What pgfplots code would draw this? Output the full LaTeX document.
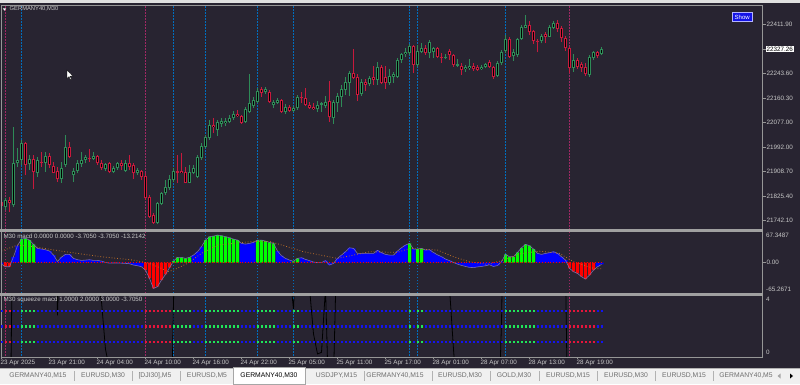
\documentclass[border=0pt]{standalone}
\usepackage{fontspec}
\setmainfont{Liberation Sans}
\usepackage{pgfplots}
\pgfplotsset{compat=1.18}
\usepackage{pgfplotstable}

\definecolor{bg}{RGB}{40,36,49}
\definecolor{frame}{RGB}{150,150,150}
\definecolor{sep}{RGB}{160,160,160}
\definecolor{txt}{RGB}{200,200,200}
\definecolor{bull}{RGB}{46,139,87}
\definecolor{bear}{RGB}{200,25,60}
\definecolor{hblue}{RGB}{0,0,255}
\definecolor{hgreen}{RGB}{0,255,0}
\definecolor{hred}{RGB}{255,0,0}
\definecolor{mline}{RGB}{120,110,170}
\definecolor{sig}{RGB}{190,110,40}
\definecolor{sgpink}{RGB}{160,40,100}
\definecolor{sgblue}{RGB}{0,110,190}
\definecolor{sqb}{RGB}{20,20,240}
\definecolor{sqg}{RGB}{30,230,90}
\definecolor{sqr}{RGB}{230,20,60}
\definecolor{tabbg}{RGB}{240,240,240}
\definecolor{tabtxt}{RGB}{110,110,110}

% i = bar index, o h l c = open high low close, m = macd, k = colour class (0 blue, 1 green, 2 red)
\pgfplotstableread{
i o h l c m k
0 21805 21812 21761 21792 -3.0 0
1 21787 21818 21778 21812 -8.6 2
2 21812 21823 21772 21803 -8.6 2
3 21795 22060 21789 21937 12.9 0
4 21937 21989 21926 21949 36.7 0
5 21949 22017 21932 22006 51.0 1
6 22006 22011 21897 21932 52.5 1
7 21935 21966 21915 21951 48.9 1
8 21951 21966 21849 21909 39.5 1
9 21905 21960 21892 21949 30.9 0
10 21943 21977 21926 21939 29.5 0
11 21939 21977 21909 21962 28.0 0
12 21962 21972 21920 21932 25.2 0
13 21928 21943 21903 21905 16.5 0
14 21911 21926 21875 21883 2.7 0
15 21883 21943 21871 21920 12.2 0
16 21932 22034 21926 21992 18.0 0
17 21992 22011 21954 21960 18.0 0
18 21897 21920 21875 21911 9.3 0
19 21911 21949 21903 21937 6.5 0
20 21935 21977 21926 21949 5.0 0
21 21949 21966 21937 21958 5.7 0
22 21957 21985 21943 21953 6.5 0
23 21953 21977 21949 21962 5.0 0
24 21962 21966 21932 21937 5.0 0
25 21939 21949 21915 21920 3.6 0
26 21917 21939 21911 21934 0.5 0
27 21937 21943 21903 21909 -0.8 0
28 21909 21928 21903 21922 -0.5 0
29 21920 21943 21915 21937 -0.6 0
30 21937 21949 21915 21928 -1.0 0
31 21912 21949 21909 21937 -1.4 0
32 21937 21966 21915 21926 -2.2 0
33 21932 21937 21884 21903 -5.0 0
34 21903 21920 21897 21915 -6.5 0
35 21911 21915 21880 21890 -8.6 0
36 21894 21903 21812 21818 -15.8 2
37 21823 21829 21750 21755 -33.8 2
38 21761 21767 21730 21733 -55.3 2
39 21735 21806 21730 21803 -51.7 2
40 21798 21840 21795 21835 -37.4 2
41 21835 21880 21829 21856 -25.2 2
42 21852 21897 21846 21883 -10.8 2
43 21880 21920 21875 21911 3.6 1
44 21911 21966 21869 21905 11.5 1
45 21912 21972 21903 21905 11.5 1
46 21909 21926 21869 21871 9.3 1
47 21871 21932 21869 21909 11.5 1
48 21905 21932 21901 21922 16.5 0
49 21890 21966 21886 21960 23.7 0
50 21954 22006 21949 21997 34.5 0
51 21994 22034 21989 22026 48.9 1
52 22023 22085 22017 22068 56.1 1
53 22068 22091 22040 22060 57.5 1
54 22051 22085 22031 22079 59.7 1
55 22072 22091 22062 22083 58.2 1
56 22076 22091 22065 22083 56.1 1
57 22079 22102 22074 22091 53.9 1
58 22091 22117 22085 22106 51.0 1
59 22106 22119 22096 22099 48.9 1
60 22099 22102 22072 22076 41.7 0
61 22080 22130 22075 22123 40.2 0
62 22114 22242 22108 22142 41.7 0
63 22133 22165 22125 22154 43.8 0
64 22148 22193 22142 22185 48.9 1
65 22190 22197 22165 22178 48.9 1
66 22182 22197 22174 22190 46.7 1
67 22182 22188 22144 22148 43.8 1
68 22136 22154 22125 22148 41.7 1
69 22144 22159 22140 22154 25.2 0
70 22154 22156 22110 22114 15.1 0
71 22114 22140 22106 22129 9.3 0
72 22131 22136 22113 22117 5.7 0
73 22117 22133 22113 22127 3.1 1
74 22125 22171 22119 22165 9.3 1
75 22163 22182 22144 22159 10.8 0
76 22159 22193 22133 22136 7.2 0
77 22136 22148 22122 22125 4.5 0
78 22131 22142 22119 22122 1.5 0
79 22122 22151 22114 22135 0.2 0
80 22136 22148 22114 22142 0.3 0
81 22133 22167 22127 22148 4.5 0
82 22150 22218 22079 22094 -5.0 0
83 22091 22154 22072 22148 -1.4 0
84 22142 22178 22114 22167 9.3 0
85 22165 22205 22131 22190 16.5 0
86 22188 22233 22171 22216 23.7 0
87 22213 22254 22167 22247 32.3 0
88 22247 22327 22224 22228 30.9 0
89 22233 22242 22151 22171 20.1 0
90 22174 22224 22167 22216 20.1 0
91 22216 22224 22185 22205 20.1 0
92 22208 22235 22201 22230 20.1 0
93 22233 22270 22205 22222 20.1 0
94 22222 22282 22205 22267 26.6 0
95 22267 22273 22207 22211 21.6 0
96 22233 22270 22191 22213 18.0 0
97 22211 22258 22205 22235 16.5 0
98 22233 22250 22213 22241 16.5 0
99 22233 22296 22228 22290 25.2 0
100 22290 22315 22279 22311 32.3 0
101 22311 22330 22301 22318 38.1 0
102 22313 22345 22307 22338 41.7 1
103 22339 22341 22245 22273 29.5 0
104 22273 22341 22267 22322 29.5 1
105 22318 22347 22313 22330 30.9 1
106 22330 22341 22307 22313 27.3 0
107 22313 22358 22296 22353 28.0 0
108 22318 22336 22296 22330 22.0 0
109 22330 22333 22296 22301 17.0 0
110 22301 22313 22279 22296 13.0 0
111 22296 22311 22292 22301 8.0 0
112 22322 22327 22290 22307 4.5 0
113 22307 22311 22267 22273 0.5 0
114 22270 22292 22267 22275 -3.0 0
115 22270 22279 22239 22256 -5.7 0
116 22258 22273 22250 22265 -8.0 0
117 22262 22292 22256 22270 -10.0 0
118 22270 22279 22254 22258 -10.5 0
119 22267 22273 22253 22256 -9.0 0
120 22258 22273 22256 22267 -8.0 0
121 22267 22281 22262 22275 -6.5 0
122 22284 22290 22262 22265 -4.5 0
123 22267 22270 22224 22233 -8.0 0
124 22235 22288 22233 22279 -6.0 0
125 22279 22324 22273 22318 2.2 0
126 22322 22375 22313 22361 18.0 1
127 22361 22370 22296 22301 12.9 1
128 22304 22327 22288 22318 12.9 1
129 22307 22364 22301 22361 22.3 1
130 22362 22410 22359 22402 32.3 1
131 22400 22444 22398 22410 39.5 1
132 22410 22423 22375 22387 36.7 1
133 22389 22393 22345 22356 29.5 1
134 22356 22362 22316 22352 20.1 0
135 22355 22378 22347 22372 18.0 0
136 22378 22385 22347 22370 20.1 0
137 22370 22410 22368 22404 21.6 0
138 22400 22423 22396 22415 23.7 0
139 22415 22427 22385 22396 20.1 0
140 22400 22406 22353 22364 12.9 0
141 22366 22373 22321 22330 5.7 0
142 22330 22336 22245 22262 -12.2 2
143 22262 22310 22250 22290 -19.4 2
144 22290 22298 22259 22267 -23.0 2
145 22275 22284 22250 22264 -30.2 2
146 22267 22279 22237 22241 -35.2 2
147 22239 22307 22233 22301 -26.6 2
148 22296 22322 22290 22316 -15.8 2
149 22316 22321 22298 22305 -8.6 0
150 22310 22336 22307 22327.26 -3.7 0
}\data

\pgfplotstableread{
i s
0 25.2
4 38.1
8 34.5
16 23.7
25 12.9
33 5.7
37 -1.4
40 -12.2
41.5 -19.4
43 -15.8
46.5 -1.4
50 20.1
54 38.1
58 41.7
62 45.3
67 46.0
71.5 34.5
75.5 23.7
84 9.3
88 16.5
92 23.7
99 22.3
102 30.9
109 27.3
113 12.9
117 2.2
121.5 -3.6
125.5 5.7
130 20.1
134.5 25.0
139.5 20.1
143 2.2
148 -12.2
150 -13.2
}\signal

% vertical signal lines: one segment per bar, with its ends in each pane (p price, m macd, s squeeze)
\pgfplotstableread{
i p m s
1 21700 -66 -0.1
1 22480 68 4.1
1 nan nan nan
36 21700 -66 -0.1
36 22480 68 4.1
36 nan nan nan
142 21700 -66 -0.1
142 22480 68 4.1
}\pinklines
\pgfplotstableread{
i p m s
5 21700 -66 -0.1
5 22480 68 4.1
5 nan nan nan
43 21700 -66 -0.1
43 22480 68 4.1
43 nan nan nan
51 21700 -66 -0.1
51 22480 68 4.1
51 nan nan nan
64 21700 -66 -0.1
64 22480 68 4.1
64 nan nan nan
73 21700 -66 -0.1
73 22480 68 4.1
73 nan nan nan
102 21700 -66 -0.1
102 22480 68 4.1
102 nan nan nan
104 21700 -66 -0.1
104 22480 68 4.1
104 nan nan nan
126 21700 -66 -0.1
126 22480 68 4.1
}\bluelines

\pgfplotsset{
  pane/.style={
    scale only axis, width=761pt, xmin=-0.125, xmax=190.125,
    axis on top, clip=true, unbounded coords=jump,
    axis line style={draw=frame, line width=0.8pt},
    tick style={draw=frame, line width=0.6pt},
    tick align=outside, major tick length=3.5pt,
    xtick=\empty, ytick pos=right, yticklabel pos=right,
    tick label style={font=\fontsize{6.3}{7.5}\selectfont, text=txt},
    yticklabel style={anchor=west, inner sep=0.8pt},
  },
  bullsel/.style={restrict expr to domain={\thisrow{c}-\thisrow{o}}{0:100000}},
  bearsel/.style={restrict expr to domain={\thisrow{o}-\thisrow{c}}{0:100000}},
  cls0/.style={restrict expr to domain={\thisrow{k}}{-0.5:0.5}},
  cls1/.style={restrict expr to domain={\thisrow{k}}{0.5:1.5}},
  cls2/.style={restrict expr to domain={\thisrow{k}}{1.5:2.5}},
  ebase/.style={draw=none, mark=none, error bars/y dir=plus, error bars/y explicit, error bars/error mark=none},
  dotb/.style={only marks, mark=square*, mark size=0.75pt, color=sqb},
  dotg/.style={only marks, mark=square*, mark size=0.75pt, color=sqg},
  dotr/.style={only marks, mark=square*, mark size=0.75pt, color=sqr},
  vpk/.style={color=sgpink, solid, line width=1.2pt, dash pattern=on 1.5pt off 1.5pt, mark=none},
  vbl/.style={color=sgblue, solid, line width=1.2pt, dash pattern=on 1.5pt off 1.5pt, mark=none},
}

\begin{document}
\begin{tikzpicture}
\path[use as bounding box] (0pt,0pt) rectangle (800pt,384pt);
\fill[bg] (0pt,0pt) rectangle (800pt,384pt);
\fill[white!88!black] (0pt,380.6pt) rectangle (800pt,384pt);

% ---------------- price pane ----------------
\begin{axis}[pane, at={(1pt,155pt)}, anchor=south west, height=224pt,
  ymin=21713.1, ymax=22477.8,
  ytick={21742.1,21825.4,21908.7,21992,22077,22160.3,22243.6,22411.9},
  yticklabels={21742.10,21825.40,21908.70,21992.00,22077.00,22160.30,22243.60,22411.90},
  extra y ticks={22327.26}, extra y tick labels={22327.26},
  extra y tick style={yticklabel style={fill=white, text=black, inner sep=0.8pt}}]
\addplot[vpk] table[x=i, y=p] {\pinklines};
\addplot[vbl] table[x=i, y=p] {\bluelines};
% wicks
\addplot[bullsel, ebase, error bars/error bar style={solid, draw=bull, line width=1pt}] table[x=i, y=l, y error plus expr=\thisrow{h}-\thisrow{l}] {\data};
\addplot[bearsel, ebase, error bars/error bar style={solid, draw=bear, line width=1pt}] table[x=i, y=l, y error plus expr=\thisrow{h}-\thisrow{l}] {\data};
% bodies: coloured outline ...
\addplot[bullsel, ebase, error bars/error bar style={solid, line cap=butt, draw=bull, line width=3pt}] table[x=i, y=o, y error plus expr=\thisrow{c}-\thisrow{o}] {\data};
\addplot[bearsel, ebase, error bars/error bar style={solid, line cap=butt, draw=bear, line width=3pt}] table[x=i, y=c, y error plus expr=\thisrow{o}-\thisrow{c}] {\data};
% ... and black inside
\addplot[bullsel, ebase, error bars/error bar style={solid, line cap=butt, draw=black, line width=1pt}] table[x=i, y expr=\thisrow{o}+3.4, y error plus expr={max(\thisrow{c}-\thisrow{o}-6.8,0)}] {\data};
\addplot[bearsel, ebase, error bars/error bar style={solid, line cap=butt, draw=black, line width=1pt}] table[x=i, y expr=\thisrow{c}+3.4, y error plus expr={max(\thisrow{o}-\thisrow{c}-6.8,0)}] {\data};
\end{axis}

% ---------------- macd pane ----------------
\begin{axis}[pane, at={(1pt,91pt)}, anchor=south west, height=61.5pt,
  ymin=-65.2671, ymax=67.3487, ytick={0}, yticklabels={0.00}]
\addplot[vpk] table[x=i, y=m] {\pinklines};
\addplot[vbl] table[x=i, y=m] {\bluelines};
\addplot[ybar, bar width=4pt, bar shift=0pt, fill=hblue, draw=none, cls0] table[x=i, y=m] {\data};
\addplot[ybar, bar width=3pt, bar shift=0pt, fill=hgreen, draw=none, cls1] table[x=i, y=m] {\data};
\addplot[ybar, bar width=3pt, bar shift=0pt, fill=hred, draw=none, cls2] table[x=i, y=m] {\data};
\addplot[draw=mline, line width=0.6pt, mark=none] table[x=i, y=m] {\data};
\addplot[draw=sig, line width=0.8pt, dotted, mark=none] table[x=i, y=s] {\signal};
\addplot[draw=hred, line width=0.8pt, dotted, mark=none] coordinates {(0,0) (150,0)};
\end{axis}

% ---------------- squeeze pane ----------------
\begin{axis}[pane, at={(1pt,27pt)}, anchor=south west, height=61.5pt,
  ymin=0, ymax=4, ytick=\empty, major tick length=2pt,
  xtick={0,12,...,144}, xtick pos=left,
  xticklabels={23 Apr 2025,23 Apr 21:00,24 Apr 04:00,24 Apr 10:00,24 Apr 16:00,24 Apr 22:00,25 Apr 05:00,25 Apr 11:00,25 Apr 17:00,28 Apr 01:00,28 Apr 07:00,28 Apr 13:00,28 Apr 19:00},
  xticklabel style={anchor=north west, inner sep=0pt, xshift=-1pt, yshift=-1pt}]
\addplot[vpk] table[x=i, y=s] {\pinklines};
\addplot[vbl] table[x=i, y=s] {\bluelines};
\addplot[draw=black, line width=0.8pt, mark=none] table[x=i, y=m] {\data};
\addplot[dotb, cls0] table[x=i, y expr=3] {\data};
\addplot[dotg, cls1] table[x=i, y expr=3] {\data};
\addplot[dotr, cls2] table[x=i, y expr=3] {\data};
\addplot[dotb, cls0] table[x=i, y expr=2] {\data};
\addplot[dotg, cls1] table[x=i, y expr=2] {\data};
\addplot[dotr, cls2] table[x=i, y expr=2] {\data};
\addplot[dotb, cls0] table[x=i, y expr=1] {\data};
\addplot[dotg, cls1] table[x=i, y expr=1] {\data};
\addplot[dotr, cls2] table[x=i, y expr=1] {\data};
\end{axis}

\begin{scope}[x=1pt, y=1pt]
% pane separators
\fill[sep] (0,152.4) rectangle (762.5,155.2);
\fill[sep] (0,88.4) rectangle (762.5,91.2);

% labels in panes
\fill[white] (2.8,375.7) -- (6.2,375.7) -- (4.5,373.3) -- cycle;
\node[anchor=west, inner sep=0pt, text=txt, font=\fontsize{5.8}{7}\selectfont] at (9.5,374.7) {GERMANY40,M30};
\node[anchor=west, inner sep=0pt, text=txt, font=\fontsize{6.2}{7}\selectfont] at (3.3,148) {M30 macd 0.0000 0.0000 -3.7050 -3.7050 -13.2142};
\node[anchor=west, inner sep=0pt, text=txt, font=\fontsize{6.2}{7}\selectfont] at (3.3,84) {M30 squeeze macd 1.0000 2.0000 3.0000 -3.7050};
\begin{scope}[every node/.style={anchor=west, inner sep=0pt, text=txt, font=\fontsize{6.3}{7.5}\selectfont}]
\node at (766,148.3) {67.3487};
\node at (766,94.7) {-65.2671};
\node at (766,85) {4};
\node at (766,31.3) {0};
\end{scope}

% show button
\filldraw[fill={rgb,255:red,20;green,20;blue,230}, draw={rgb,255:red,180;green,180;blue,255}, line width=0.6pt] (732.5,362.3) rectangle (752,371.3);
\node[text=white, inner sep=0pt, font=\fontsize{6}{7}\selectfont] at (742.2,366.8) {Show};

% mouse cursor
\filldraw[fill=white, draw=black, line width=0.3pt] (67,314) -- (67,305.3) -- (69,307.3) -- (70.4,304.4) -- (71.5,304.9) -- (70.1,307.8) -- (72.8,307.8) -- cycle;

% tab bar
\fill[tabbg] (0,0) rectangle (800,16);
\draw[gray!60, line width=0.6pt] (0,16.2) -- (800,16.2);
\foreach \xx in {74,132,180,364,432,490,539,597,655,713} {\draw[gray!60, line width=0.6pt] (\xx,3) -- (\xx,13);}
\filldraw[fill=white, draw=gray!70, line width=0.6pt] (233,0) rectangle (305,16.8);
\begin{scope}[every node/.style={inner sep=0pt, text=tabtxt, font=\fontsize{6.8}{8}\selectfont}]
\node at (38,8) {GERMANY40,M15};
\node at (103,8) {EURUSD,M30};
\node at (155,8) {[DJI30],M5};
\node at (207,8) {EURUSD,M5};
\node[text=black] at (269,8) {GERMANY40,M30};
\node at (336.5,8) {USDJPY,M15};
\node at (395,8) {GERMANY40,M15};
\node at (460,8) {EURUSD,M30};
\node at (514,8) {GOLD,M30};
\node at (568,8) {EURUSD,M15};
\node at (626,8) {EURUSD,M30};
\node at (684,8) {EURUSD,M15};
\node at (746,8) {GERMANY40,M5};
\end{scope}
\fill[gray!70] (777.5,8) -- (780.5,10.5) -- (780.5,5.5) -- cycle;
\fill[black] (793,8) -- (790,10.5) -- (790,5.5) -- cycle;
\end{scope}
\end{tikzpicture}
\end{document}
